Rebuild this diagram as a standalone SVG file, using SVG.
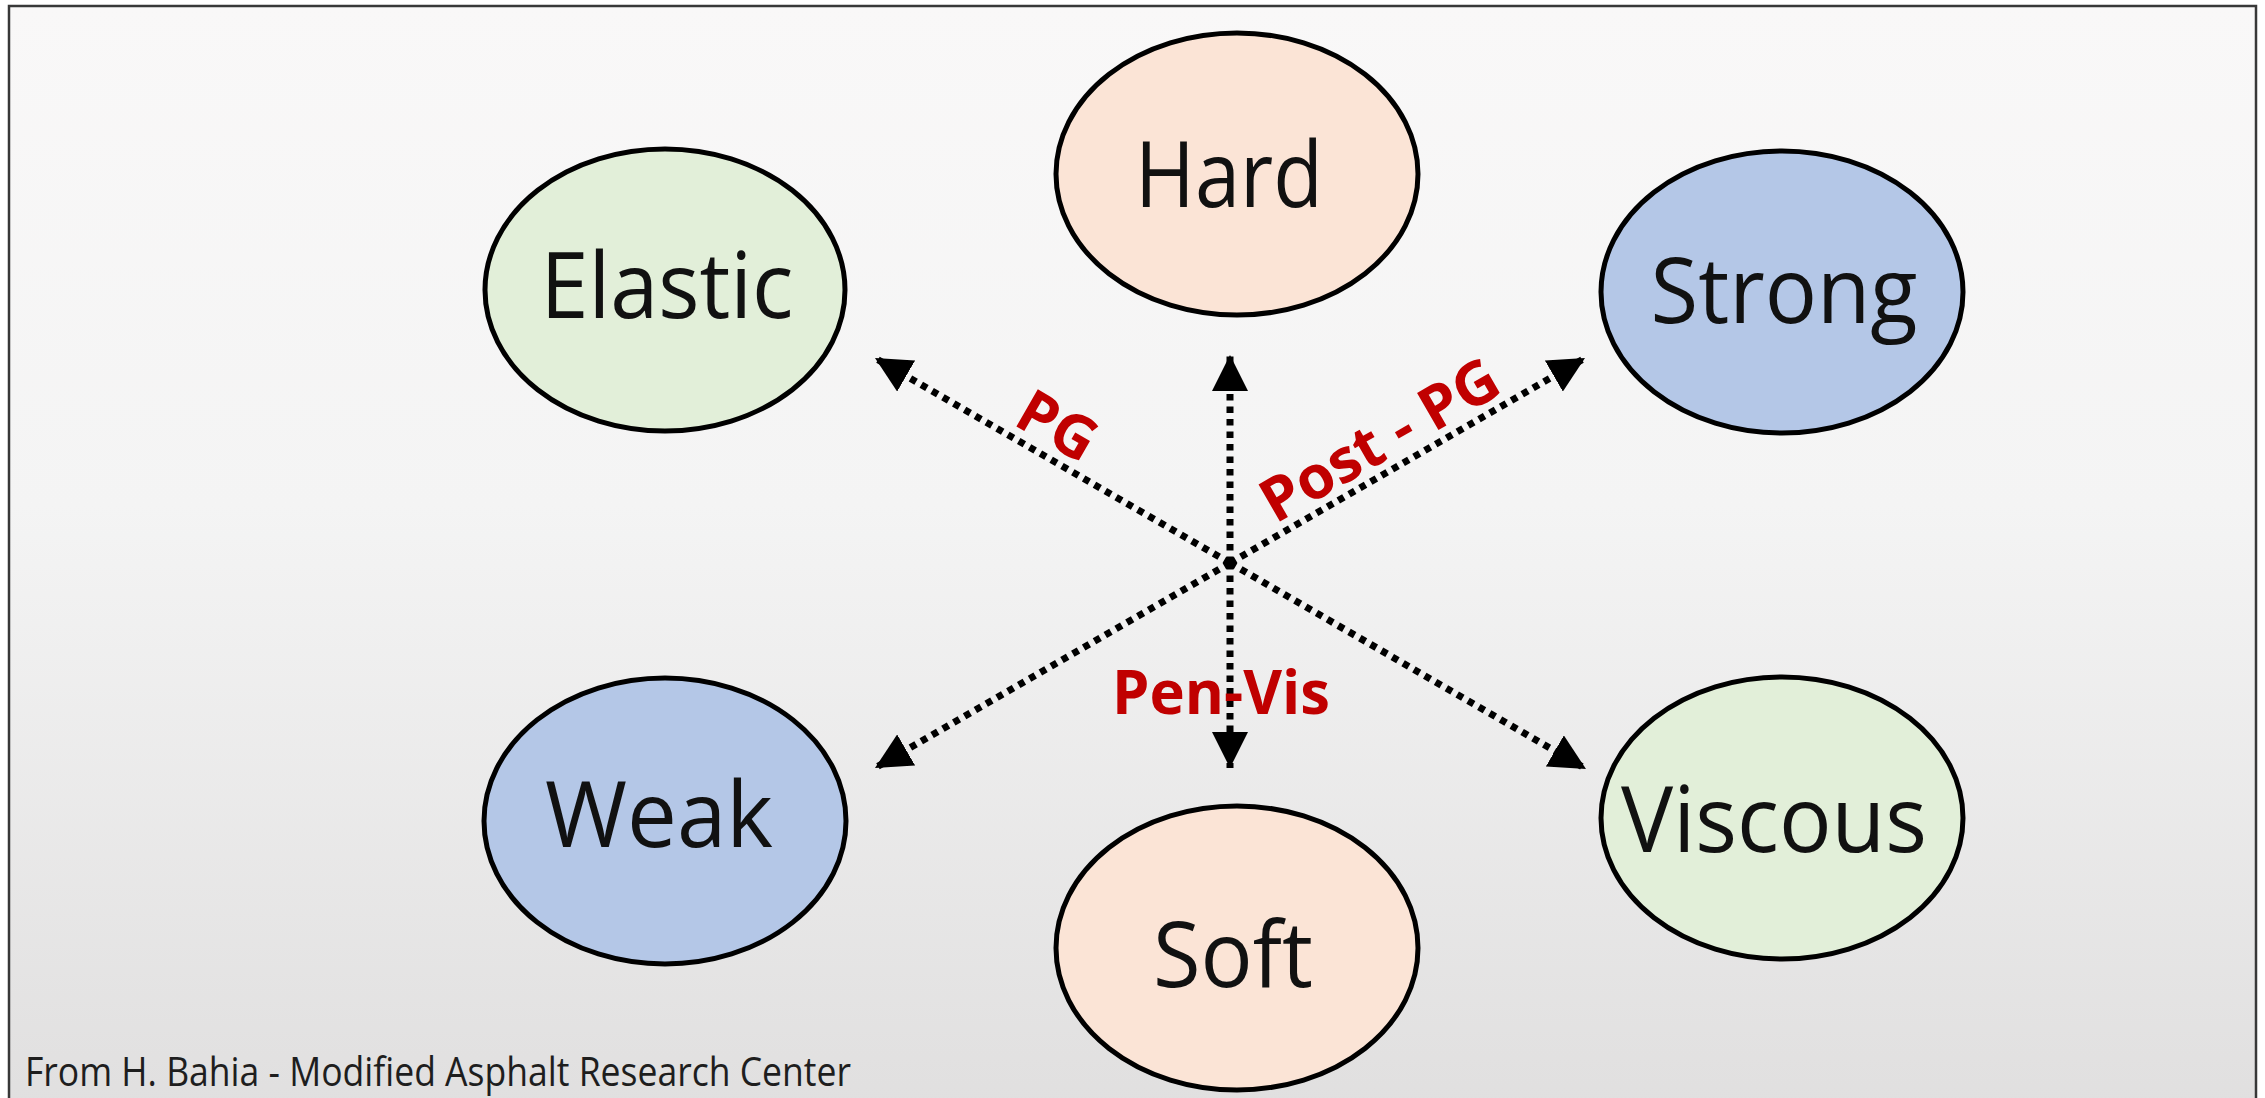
<svg xmlns="http://www.w3.org/2000/svg" width="2265" height="1098" viewBox="0 0 2265 1098">
<defs>
<linearGradient id="bg" x1="0" y1="0" x2="0" y2="1">
<stop offset="0" stop-color="#f9f8f8"/>
<stop offset="0.45" stop-color="#f4f4f4"/>
<stop offset="1" stop-color="#e0dfdf"/>
</linearGradient>
<marker id="ah" viewBox="0 0 36 36" refX="36" refY="18" markerWidth="36" markerHeight="36" markerUnits="userSpaceOnUse" orient="auto-start-reverse">
<path d="M0,0 L36,18 L0,36 z" fill="#000"/>
</marker>
<style>
.node ellipse{stroke:#000;stroke-width:5}
.peach{fill:#fbe4d6}
.green{fill:#e2efd9}
.blue{fill:#b4c7e7}
.lbl{font-family:"Open Sans","Noto Sans","Liberation Sans",sans-serif;font-size:92px;fill:#111;text-anchor:middle}
.conn line{stroke:#000;stroke-width:7;stroke-dasharray:6.5 6;fill:none}
.red{font-family:"Open Sans","Noto Sans","Liberation Sans",sans-serif;font-weight:bold;font-size:60px;fill:#c00000;text-anchor:middle}
.foot{font-family:"Open Sans","Noto Sans","Liberation Sans",sans-serif;font-size:40px;fill:#1e1e1e}
</style>
</defs>
<rect x="0" y="0" width="2265" height="1098" fill="#ffffff"/>
<rect x="9" y="6" width="2247" height="1110" fill="url(#bg)" stroke="#383838" stroke-width="2.5"/>

<g id="connectors" class="conn">
<line x1="1230" y1="563" x2="1230" y2="355" marker-end="url(#ah)"/>
<line x1="1230" y1="563" x2="1230" y2="768" marker-end="url(#ah)"/>
<line x1="1230" y1="563" x2="875" y2="358" marker-end="url(#ah)"/>
<line x1="1230" y1="563" x2="1585" y2="358" marker-end="url(#ah)"/>
<line x1="1230" y1="563" x2="875" y2="768" marker-end="url(#ah)"/>
<line x1="1230" y1="563" x2="1586" y2="769" marker-end="url(#ah)"/>
</g>

<g id="labels">
<text class="red" x="1047" y="444" transform="rotate(30 1047 444)">PG</text>
<text class="red" x="1390" y="458" transform="rotate(-30 1390 458)" textLength="265" lengthAdjust="spacingAndGlyphs">Post - PG</text>
<text class="red" x="1221" y="714" textLength="218" lengthAdjust="spacingAndGlyphs">Pen-Vis</text>
</g>

<g id="node-hard" class="node">
<ellipse class="peach" cx="1237" cy="174" rx="181" ry="141"/>
<text class="lbl" x="1229" y="207" textLength="188" lengthAdjust="spacingAndGlyphs">Hard</text>
</g>
<g id="node-elastic" class="node">
<ellipse class="green" cx="665" cy="290" rx="180" ry="141"/>
<text class="lbl" x="667" y="318" textLength="253" lengthAdjust="spacingAndGlyphs">Elastic</text>
</g>
<g id="node-strong" class="node">
<ellipse class="blue" cx="1782" cy="292" rx="181" ry="141"/>
<text class="lbl" x="1784" y="323" textLength="267" lengthAdjust="spacingAndGlyphs">Strong</text>
</g>
<g id="node-weak" class="node">
<ellipse class="blue" cx="665" cy="821" rx="181" ry="143"/>
<text class="lbl" x="659" y="847" textLength="228" lengthAdjust="spacingAndGlyphs">Weak</text>
</g>
<g id="node-soft" class="node">
<ellipse class="peach" cx="1237" cy="948" rx="181" ry="142"/>
<text class="lbl" x="1233" y="987" textLength="160" lengthAdjust="spacingAndGlyphs">Soft</text>
</g>
<g id="node-viscous" class="node">
<ellipse class="green" cx="1782" cy="818" rx="181" ry="141"/>
<text class="lbl" x="1774" y="852" textLength="306" lengthAdjust="spacingAndGlyphs">Viscous</text>
</g>

<text class="foot" x="25" y="1086" textLength="826" lengthAdjust="spacingAndGlyphs">From H. Bahia - Modified Asphalt Research Center</text>
</svg>
